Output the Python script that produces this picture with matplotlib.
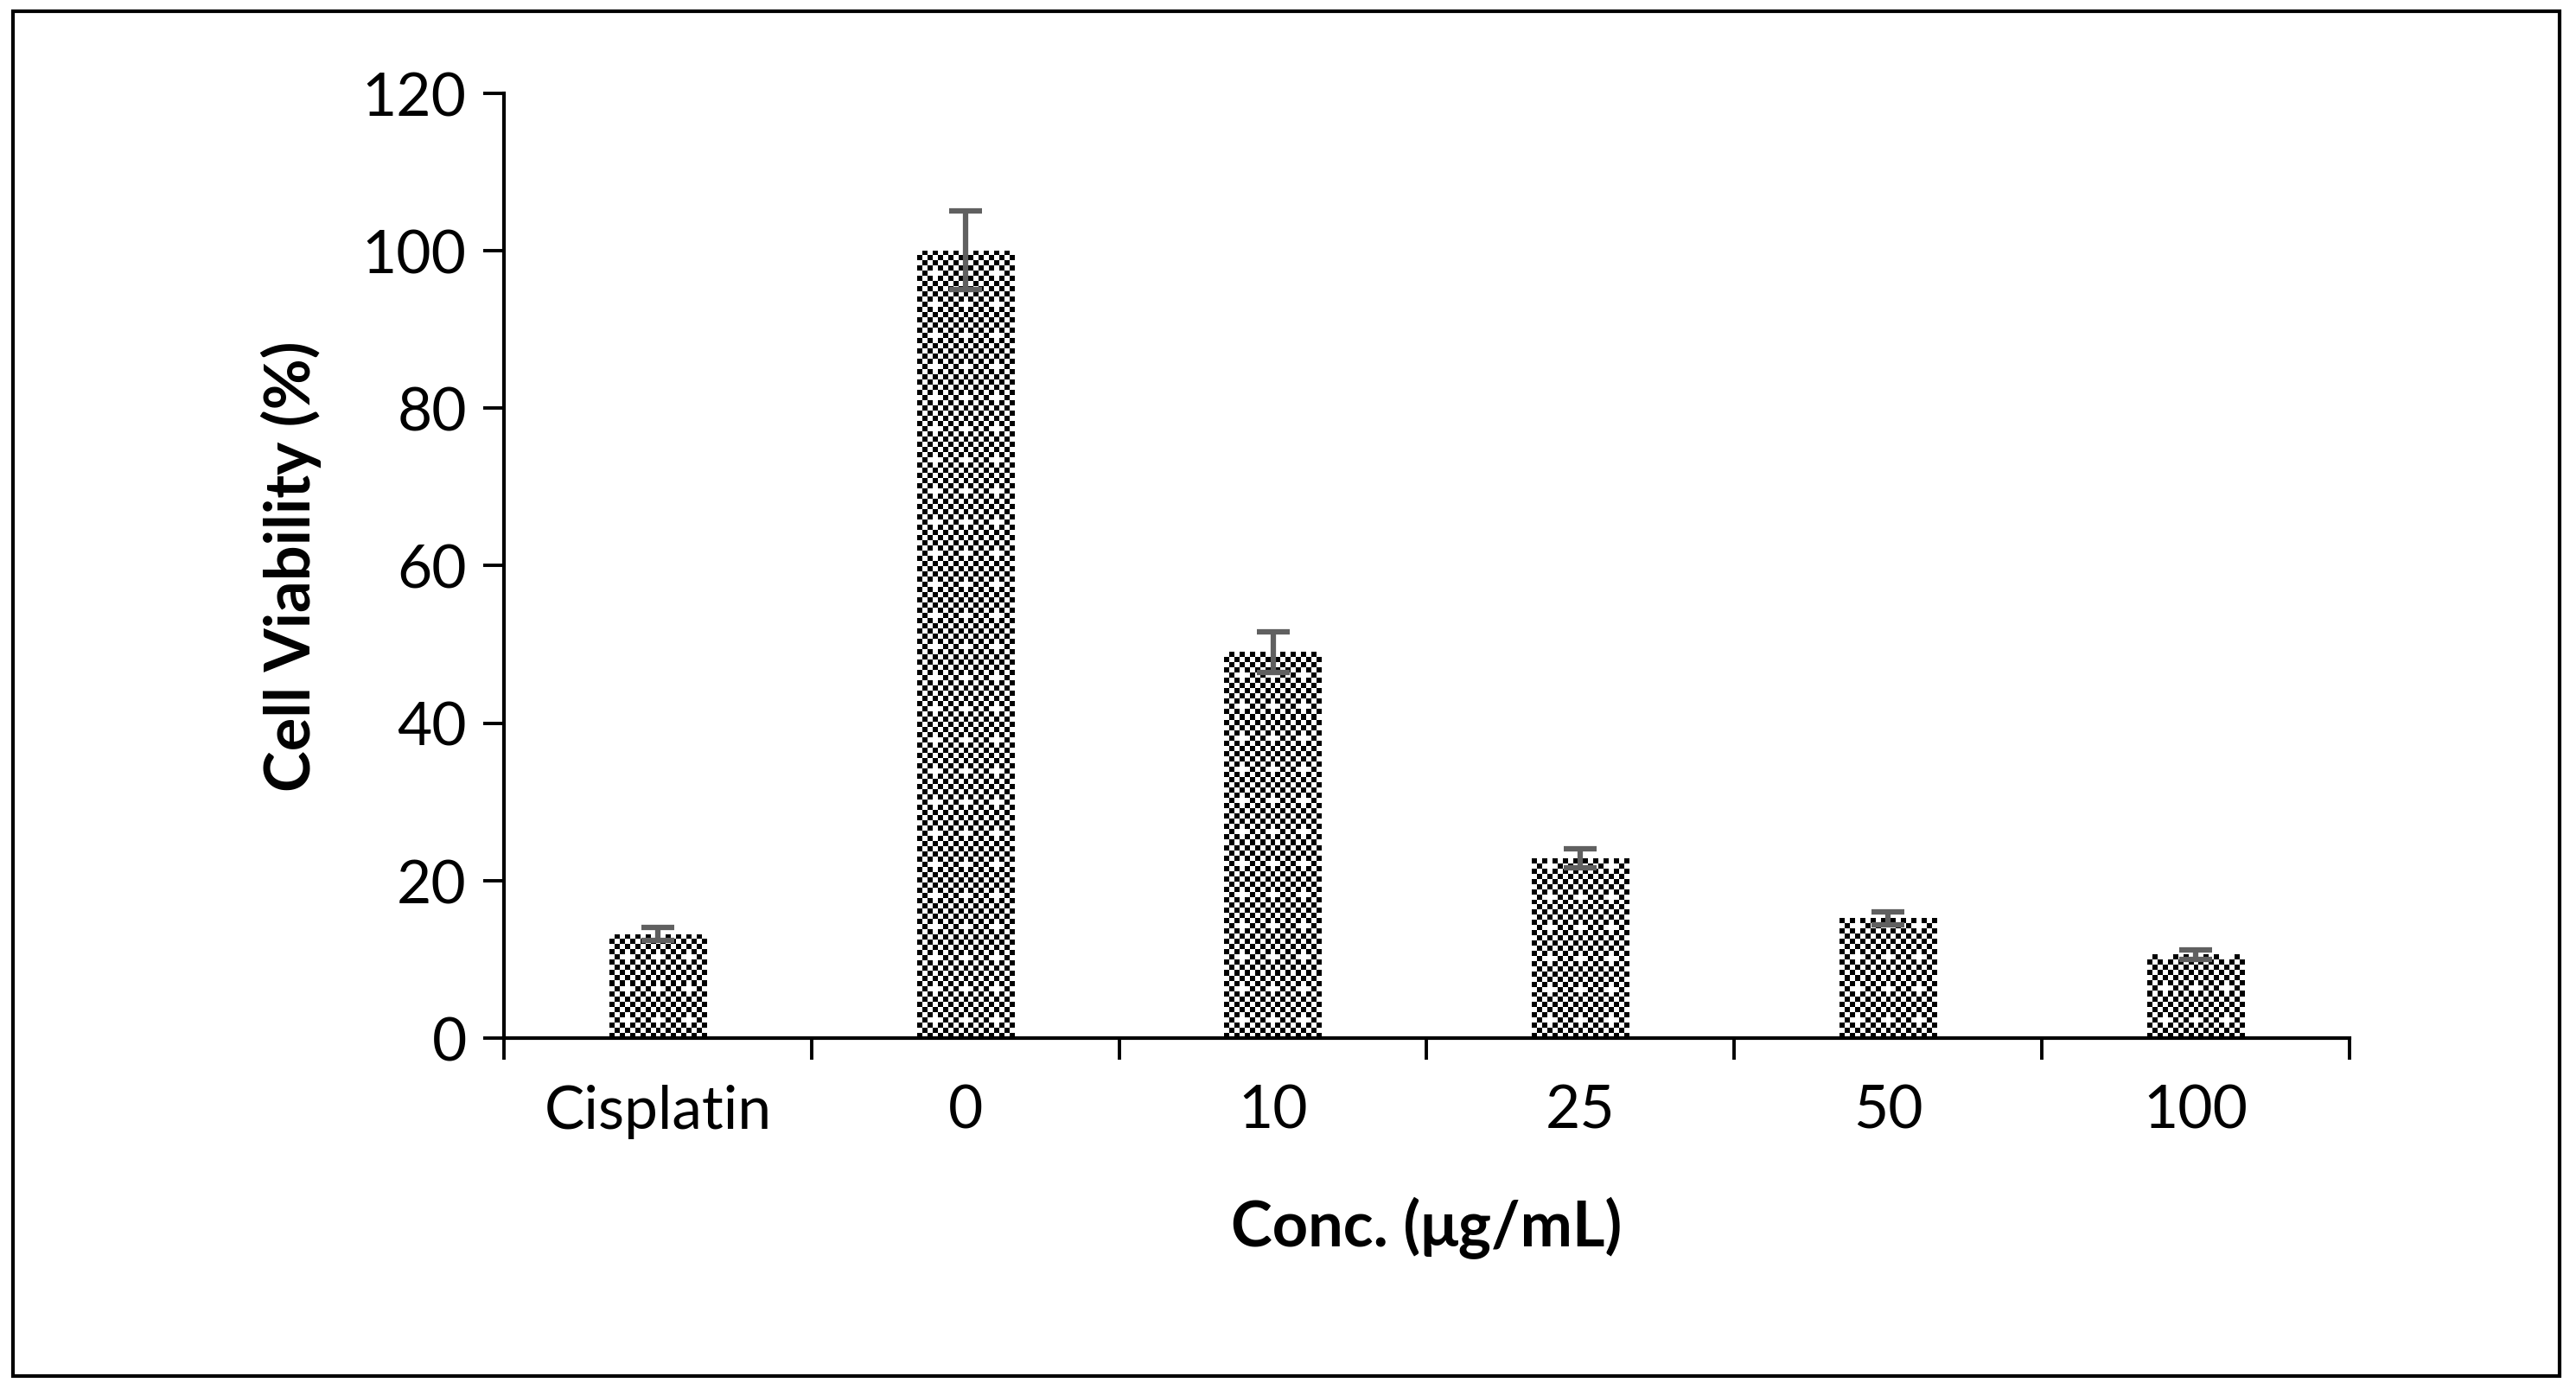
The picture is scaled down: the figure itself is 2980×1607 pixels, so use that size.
import numpy as np
import matplotlib.pyplot as plt
from matplotlib.patches import Rectangle

categories = ['Cisplatin', '0', '10', '25', '50', '100']
viability = [13.2, 100.0, 49.0, 22.8, 15.2, 10.6]
errors = [0.8, 5.0, 2.6, 1.2, 0.8, 0.6]

plt.rcParams['font.family'] = ['Lato', 'DejaVu Sans']

fig = plt.figure(figsize=(29.8, 16.08), dpi=100)
ax = fig.add_axes([0.1956, 0.2525, 0.7165, 0.68])

x = np.arange(len(categories))
width = 0.315
bars = ax.bar(x, viability, width, color='none', edgecolor='none', zorder=2)

# checkerboard fill, clipped to each bar
px_per_unit = 0.68 * 1608 / 120
for b in bars:
    h = b.get_height()
    ny = max(2, int(round(h * px_per_unit / 6)))
    nx = 19
    yy, xx = np.mgrid[0:ny, 0:nx]
    board = ((xx + yy) % 2).astype(float)
    # small white holes like the excel pattern
    board[(yy % 6 == 3) & (xx % 6 == 3)] = 1
    im = ax.imshow(board, cmap='gray', vmin=0, vmax=1, interpolation='nearest',
                   extent=[b.get_x(), b.get_x() + b.get_width(), 0, h],
                   origin='lower', aspect='auto', zorder=2)
    im.set_clip_path(b)

ax.errorbar(x, viability, yerr=errors, fmt='none', ecolor='#606060',
            elinewidth=4.5, capsize=14, capthick=4.5, zorder=3)

ax.set_xlim(-0.5, len(categories) - 0.5)
ax.set_ylim(0, 120)
ax.set_yticks(np.arange(0, 121, 20))
ax.set_xticks(np.arange(-0.5, len(categories)), minor=False)
ax.set_xticklabels([])
ax.set_xticks(x, minor=True)
ax.set_xticklabels(categories, minor=True)
ax.tick_params(axis='x', which='minor', length=0, pad=38, labelsize=50)
ax.tick_params(axis='x', which='major', length=18, width=2.8, direction='out')
ax.tick_params(axis='y', length=17, width=2.8, labelsize=50, pad=14)

for s in ['top', 'right']:
    ax.spines[s].set_visible(False)
for s in ['left', 'bottom']:
    ax.spines[s].set_linewidth(3)

ax.set_ylabel('Cell Viability (%)', fontsize=52, fontweight='bold', labelpad=34)
ax.set_xlabel('Conc. (μg/mL)', fontsize=52, fontweight='bold', labelpad=48)

fig.patches.append(Rectangle((0.005, 0.0095), 0.9885, 0.9815, transform=fig.transFigure,
                             fill=False, edgecolor='black', linewidth=3))

fig.savefig('out.png', dpi=100)
